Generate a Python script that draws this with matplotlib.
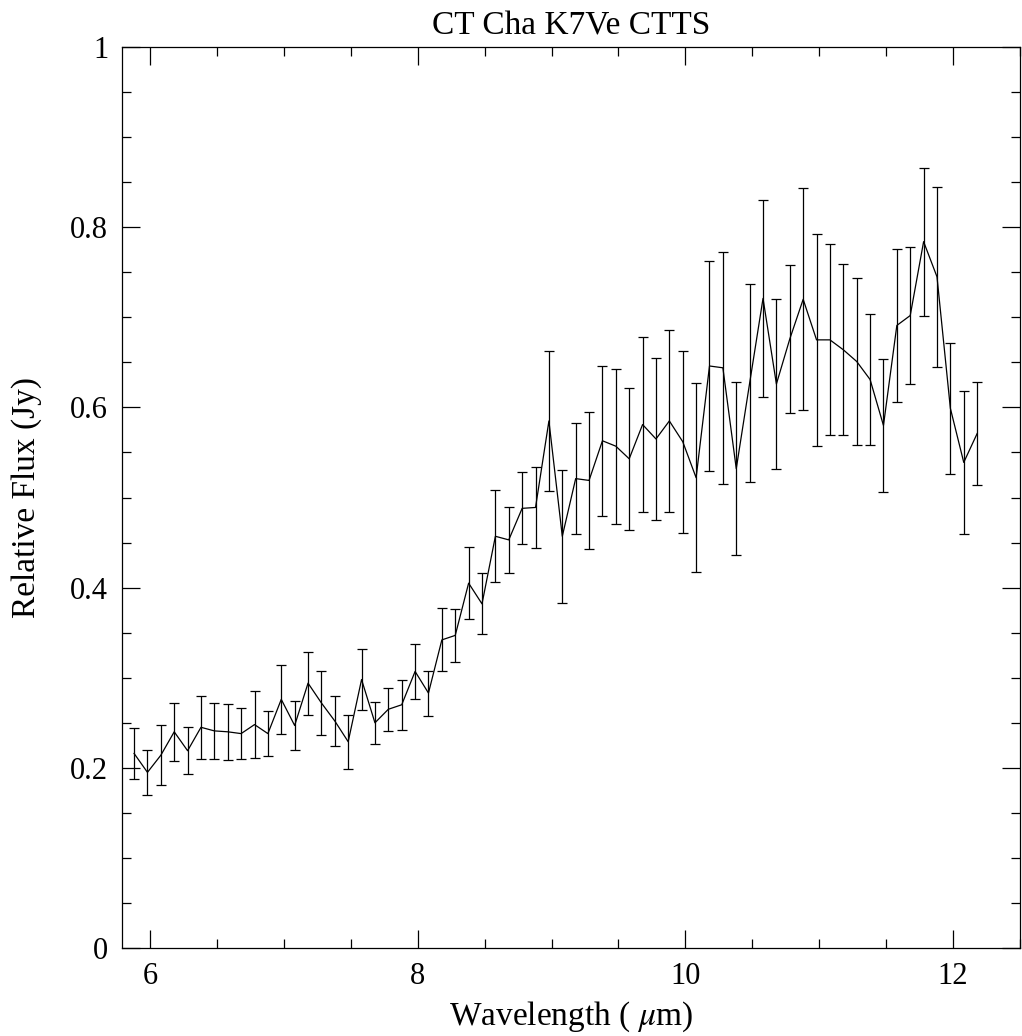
import numpy as np
import matplotlib
matplotlib.use('Agg')
import matplotlib.pyplot as plt
from matplotlib.ticker import MultipleLocator

plt.rcParams['font.family'] = ['Liberation Serif', 'DejaVu Serif']
plt.rcParams['mathtext.fontset'] = 'stix'

# wavelength grid (micron)
wavelength = [5.88, 5.98, 6.08, 6.18, 6.28, 6.38, 6.48, 6.58, 6.68, 6.78,
              6.88, 6.98, 7.08, 7.18, 7.28, 7.38, 7.48, 7.58, 7.68, 7.78,
              7.88, 7.98, 8.08, 8.18, 8.28, 8.38, 8.48, 8.58, 8.68, 8.78,
              8.88, 8.98, 9.08, 9.18, 9.28, 9.38, 9.48, 9.58, 9.68, 9.78,
              9.88, 9.98, 10.08, 10.18, 10.28, 10.38, 10.48, 10.58, 10.68, 10.78,
              10.88, 10.98, 11.08, 11.18, 11.28, 11.38, 11.48, 11.58, 11.68, 11.78,
              11.88, 11.98, 12.08, 12.18]

flux = [0.216, 0.195, 0.214, 0.240, 0.219, 0.245, 0.241, 0.240, 0.238, 0.248,
        0.238, 0.276, 0.247, 0.294, 0.272, 0.252, 0.229, 0.298, 0.250, 0.265,
        0.270, 0.307, 0.283, 0.342, 0.347, 0.405, 0.382, 0.457, 0.453, 0.488,
        0.489, 0.585, 0.457, 0.521, 0.519, 0.563, 0.557, 0.543, 0.581, 0.565,
        0.585, 0.562, 0.522, 0.646, 0.644, 0.532, 0.627, 0.721, 0.626, 0.676,
        0.720, 0.675, 0.675, 0.664, 0.651, 0.631, 0.580, 0.691, 0.702, 0.784,
        0.745, 0.599, 0.539, 0.571]

flux_err = [0.028, 0.025, 0.033, 0.032, 0.026, 0.035, 0.031, 0.031, 0.028, 0.037,
            0.025, 0.038, 0.027, 0.035, 0.035, 0.028, 0.030, 0.034, 0.023, 0.024,
            0.028, 0.031, 0.025, 0.035, 0.029, 0.040, 0.034, 0.051, 0.037, 0.040,
            0.045, 0.078, 0.074, 0.062, 0.076, 0.083, 0.086, 0.079, 0.097, 0.090,
            0.101, 0.101, 0.105, 0.116, 0.129, 0.096, 0.110, 0.109, 0.094, 0.082,
            0.123, 0.118, 0.106, 0.095, 0.093, 0.073, 0.074, 0.085, 0.076, 0.082,
            0.100, 0.073, 0.079, 0.057]

fig = plt.figure(figsize=(10.22, 10.36), dpi=100)
ax = fig.add_axes([0.1194, 0.0849, 0.8786, 0.8697])

ax.errorbar(wavelength, flux, yerr=flux_err, color='black', linewidth=0.9,
            elinewidth=0.9, capsize=3.6, capthick=0.9)

ax.set_xlim(5.79, 12.5)
ax.set_ylim(0, 1)
ax.xaxis.set_major_locator(MultipleLocator(2))
ax.xaxis.set_minor_locator(MultipleLocator(0.5))
ax.yaxis.set_minor_locator(MultipleLocator(0.05))
ax.set_yticks([0, 0.2, 0.4, 0.6, 0.8, 1.0])
ax.set_yticklabels(['0', '0.2', '0.4', '0.6', '0.8', '1'])

ax.tick_params(which='both', direction='in', top=True, right=True,
               labelsize=22, width=0.9)
ax.tick_params(which='major', length=13, pad=10)
ax.tick_params(which='minor', length=6.5)
for sp in ax.spines.values():
    sp.set_linewidth(0.9)

ax.set_xlabel('Wavelength ( $\\mu$m)', fontsize=24, labelpad=6)
ax.set_ylabel('Relative Flux (Jy)', fontsize=24, labelpad=20)
ax.set_title('CT Cha K7Ve CTTS', fontsize=24, pad=9)

fig.savefig('out.png', dpi=100)
